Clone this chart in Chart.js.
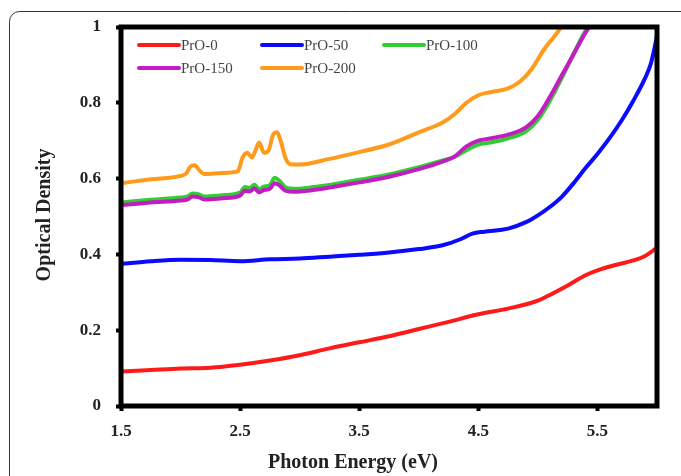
<!DOCTYPE html>
<html>
<head>
<meta charset="utf-8">
<script src="https://cdn.jsdelivr.net/npm/chart.js@4/dist/chart.umd.min.js"></script>
<style>
    body { margin: 0; background: #fff; }
    canvas { display: block; }
</style>
</head>
<body>
<canvas id="odChart" width="681" height="476"></canvas>
<script>
// Optical density vs photon energy for the PrO samples
const seriesLabels = ['PrO-0', 'PrO-50', 'PrO-100', 'PrO-150', 'PrO-200'];
const seriesColors = ['#ff1a1a', '#0a0aff', '#33cc33', '#c31cc3', '#ff9a1a'];

const xTicks = [1.5, 2.5, 3.5, 4.5, 5.5];
const yTicks = [0, 0.2, 0.4, 0.6, 0.8, 1];

const pro0X = [1.5, 1.75, 2.0, 2.25, 2.5, 2.75, 3.0, 3.25, 3.5, 3.75, 4.0, 4.25, 4.5, 4.75, 5.0, 5.1, 5.25, 5.4, 5.5, 5.65, 5.8, 5.9, 6.0];
const pro0Y = [0.091, 0.095, 0.099, 0.101, 0.109, 0.12, 0.134, 0.152, 0.168, 0.184, 0.203, 0.222, 0.242, 0.257, 0.278, 0.293, 0.318, 0.345, 0.358, 0.372, 0.384, 0.396, 0.418];

const pro50X = [1.5, 1.75, 2.0, 2.25, 2.5, 2.75, 3.0, 3.25, 3.5, 3.75, 4.0, 4.2, 4.35, 4.45, 4.55, 4.75, 4.9, 5.0, 5.1, 5.2, 5.3, 5.4, 5.5, 5.6, 5.7, 5.8, 5.9, 5.95, 6.0];
const pro50Y = [0.375, 0.382, 0.386, 0.385, 0.382, 0.387, 0.389, 0.394, 0.399, 0.405, 0.414, 0.424, 0.44, 0.455, 0.46, 0.468, 0.485, 0.503, 0.525, 0.552, 0.588, 0.628, 0.665, 0.706, 0.752, 0.805, 0.865, 0.905, 0.975];

const pro100X = [1.5, 1.75, 2.0, 2.06, 2.1, 2.15, 2.2, 2.35, 2.5, 2.54, 2.58, 2.62, 2.66, 2.7, 2.75, 2.79, 2.83, 2.88, 2.95, 3.1, 3.3, 3.5, 3.75, 4.0, 4.2, 4.3, 4.4, 4.5, 4.6, 4.75, 4.9, 5.0, 5.1, 5.2, 5.3, 5.4, 5.48];
const pro100Y = [0.537, 0.544, 0.55, 0.553, 0.561, 0.559, 0.553, 0.556, 0.563, 0.578, 0.575, 0.584, 0.572, 0.579, 0.583, 0.602, 0.594, 0.577, 0.573, 0.577, 0.586, 0.597, 0.611, 0.63, 0.648, 0.657, 0.675, 0.69, 0.695, 0.706, 0.725, 0.755, 0.805, 0.865, 0.93, 0.99, 1.03];

const pro150X = [1.5, 1.75, 2.0, 2.06, 2.1, 2.15, 2.2, 2.35, 2.5, 2.54, 2.58, 2.62, 2.66, 2.7, 2.75, 2.79, 2.83, 2.88, 2.95, 3.1, 3.3, 3.5, 3.75, 4.0, 4.2, 4.3, 4.4, 4.5, 4.6, 4.75, 4.9, 5.0, 5.1, 5.2, 5.3, 5.4, 5.48];
const pro150Y = [0.53, 0.537, 0.542, 0.545, 0.553, 0.551, 0.545, 0.548, 0.555, 0.568, 0.566, 0.574, 0.564, 0.57, 0.573, 0.588, 0.582, 0.568, 0.565, 0.569, 0.579, 0.59, 0.605, 0.625, 0.645, 0.658, 0.685, 0.7, 0.706, 0.716, 0.735, 0.765, 0.815, 0.872, 0.928, 0.985, 1.02];

const pro200X = [1.5, 1.75, 2.0, 2.05, 2.08, 2.12, 2.16, 2.2, 2.35, 2.48, 2.52, 2.56, 2.6, 2.63, 2.66, 2.7, 2.74, 2.78, 2.81, 2.84, 2.88, 2.92, 3.0, 3.25, 3.5, 3.75, 4.0, 4.2, 4.3, 4.4, 4.5, 4.6, 4.75, 4.85, 4.95, 5.05, 5.15, 5.24];
const pro200Y = [0.588, 0.598, 0.607, 0.614, 0.631, 0.635, 0.621, 0.612, 0.615, 0.619, 0.655, 0.668, 0.656, 0.675, 0.695, 0.668, 0.675, 0.718, 0.722, 0.7, 0.655, 0.638, 0.637, 0.652, 0.67, 0.69, 0.722, 0.748, 0.77, 0.8, 0.82, 0.828, 0.838, 0.856, 0.89, 0.94, 0.98, 1.02];

const seriesX = [pro0X, pro50X, pro100X, pro150X, pro200X];
const seriesY = [pro0Y, pro50Y, pro100Y, pro150Y, pro200Y];

const serif = "'Liberation Serif', 'Times New Roman', serif";

function toPoints(xs, ys) {
    return xs.map((x, i) => ({ x: x, y: ys[i] }));
}

// Rounded page frame behind everything
const pageFrame = {
    id: 'pageFrame',
    beforeDraw(chart) {
        const ctx = chart.ctx;
        ctx.save();
        ctx.strokeStyle = '#333';
        ctx.lineWidth = 1;
        ctx.beginPath();
        ctx.moveTo(9.5, 480);
        ctx.lineTo(9.5, 21.5);
        ctx.arcTo(9.5, 11.5, 19.5, 11.5, 10);
        ctx.lineTo(690, 11.5);
        ctx.stroke();
        ctx.restore();
    }
};

// Heavy box round the plot, legend and axis titles
const plotDecor = {
    id: 'plotDecor',
    afterDatasetsDraw(chart) {
        const ctx = chart.ctx;
        const a = chart.chartArea;
        ctx.save();
        ctx.strokeStyle = '#000';
        ctx.lineWidth = 5;
        ctx.strokeRect(a.left, a.top, a.right - a.left, a.bottom - a.top);

        // legend, three per row
        const cols = [137, 260, 382];
        const rows = [45, 68];
        ctx.font = '15px ' + serif;
        ctx.textBaseline = 'middle';
        ctx.textAlign = 'left';
        chart.data.datasets.forEach((ds, i) => {
            const x = cols[i % 3];
            const y = rows[Math.floor(i / 3)];
            ctx.strokeStyle = ds.borderColor;
            ctx.lineWidth = 4;
            ctx.lineCap = 'round';
            ctx.beginPath();
            ctx.moveTo(x + 2, y);
            ctx.lineTo(x + 42, y);
            ctx.stroke();
            ctx.fillStyle = '#444';
            ctx.fillText(ds.label, x + 44, y + 1);
        });

        // axis titles
        ctx.fillStyle = '#222';
        ctx.font = 'bold 20px ' + serif;
        ctx.textAlign = 'center';
        ctx.fillText('Photon Energy (eV)', 353, 463);
        ctx.translate(45, 215);
        ctx.rotate(-Math.PI / 2);
        ctx.fillText('Optical Density', 0, 0);
        ctx.restore();
    }
};

const ctx = document.getElementById('odChart').getContext('2d');
const odChart = new Chart(ctx, {
    type: 'line',
    data: {
        datasets: seriesLabels.map((label, i) => ({
            label: label,
            data: toPoints(seriesX[i], seriesY[i]),
            borderColor: seriesColors[i],
            borderWidth: 4,
            pointRadius: 0,
            cubicInterpolationMode: 'monotone',
            clip: 0,
            order: label === 'PrO-100' ? 1 : 0
        }))
    },
    options: {
        responsive: false,
        animation: false,
        layout: { padding: { left: 0, top: 27, right: 24, bottom: 0 } },
        plugins: {
            legend: { display: false },
            tooltip: { enabled: false }
        },
        scales: {
            x: {
                type: 'linear',
                min: 1.5,
                max: 6,
                afterBuildTicks: scale => { scale.ticks = xTicks.map(v => ({ value: v })); },
                afterFit: scale => { scale.height = 70; },
                border: { display: false },
                grid: {
                    drawOnChartArea: false,
                    drawTicks: true,
                    tickLength: 5,
                    tickWidth: 4,
                    color: '#000'
                },
                ticks: {
                    padding: 10,
                    color: '#222',
                    font: { family: serif, size: 17, weight: 'bold' },
                    callback: v => v.toFixed(1)
                }
            },
            y: {
                min: 0,
                max: 1,
                afterBuildTicks: scale => { scale.ticks = yTicks.map(v => ({ value: v })); },
                afterFit: scale => { scale.width = 121; },
                border: { display: false },
                grid: {
                    drawOnChartArea: false,
                    drawTicks: true,
                    tickLength: 5,
                    tickWidth: 4,
                    color: '#000'
                },
                ticks: {
                    padding: 15,
                    color: '#222',
                    font: { family: serif, size: 17, weight: 'bold' },
                    callback: v => String(v)
                }
            }
        }
    },
    plugins: [pageFrame, plotDecor]
});
</script>
</body>
</html>
